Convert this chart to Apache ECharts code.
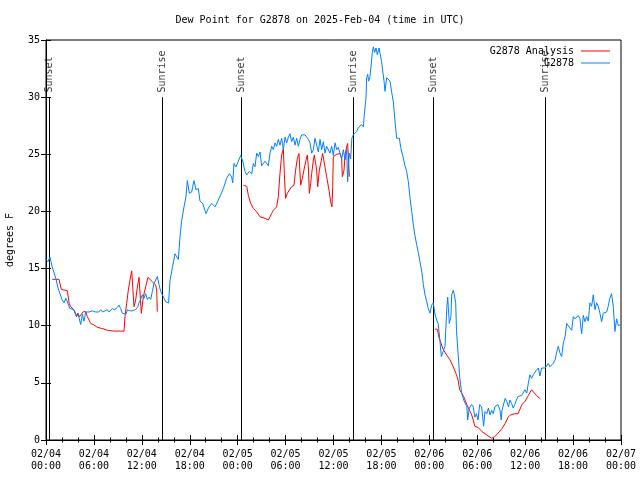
<!DOCTYPE html>
<html>
<head>
<meta charset="utf-8">
<script src="https://cdn.jsdelivr.net/npm/echarts@6/dist/echarts.min.js"></script>
<style>html,body{margin:0;padding:0;background:#fff}#c{width:640px;height:480px}</style>
</head>
<body>
<div id="c"></div>
<script>
// ---- data (hours since 2025-02-04 00:00 UTC, dew point in F) ----
const chartTitle = 'Dew Point for G2878 on 2025-Feb-04 (time in UTC)';
const yAxisTitle = 'degrees F';
const analysisName = 'G2878 Analysis';
const obsName = 'G2878';
const xTickLabels = ['02/04\n00:00','02/04\n06:00','02/04\n12:00','02/04\n18:00','02/05\n00:00','02/05\n06:00','02/05\n12:00','02/05\n18:00','02/06\n00:00','02/06\n06:00','02/06\n12:00','02/06\n18:00','02/07\n00:00'];
const yTicks = [0,5,10,15,20,25,30,35];
const sunEventHours = [0.4, 14.55, 24.45, 38.5, 48.5, 62.5];
const sunEventNames = ['Sunset','Sunrise','Sunset','Sunrise','Sunset','Sunrise'];
const sunLineTop = 30;
const sunLabelY = 30.4;

const obsDewPoint = [
[0.0,15.8],[0.25,15.6],[0.5,16.0],[0.75,15.2],[1.0,15.3],[1.25,14.1],[1.5,13.3],[1.75,13.4],[2.0,12.3],[2.25,12.0],[2.5,12.4],[2.75,12.3],[3.0,11.5],[3.25,11.6],[3.5,11.4],[3.75,10.9],[4.0,11.1],[4.34,10.1],[4.55,11.0],[4.76,10.4],[4.97,11.2],[5.2,11.2],[5.4,11.2],[5.8,11.3],[6.2,11.2],[6.6,11.2],[6.85,11.4],[7.1,11.2],[7.4,11.3],[7.68,11.4],[7.9,11.2],[8.3,11.5],[8.6,11.4],[8.93,11.6],[9.14,11.8],[9.35,11.5],[9.56,11.1],[9.77,11.0],[10.0,11.0],[10.2,11.4],[10.5,11.3],[10.8,11.3],[11.2,11.4],[11.45,11.6],[11.65,12.0],[11.85,12.3],[12.06,12.7],[12.27,12.4],[12.48,12.8],[12.69,12.3],[12.9,12.5],[13.11,12.3],[13.32,13.0],[13.52,13.7],[13.73,14.0],[13.94,14.3],[14.15,13.6],[14.36,13.0],[14.57,12.7],[14.78,12.8],[14.99,12.1],[15.2,12.0],[15.35,12.0],
[15.53,14.0],[15.86,15.2],[16.15,16.3],[16.36,16.2],[16.57,15.8],[16.78,17.8],[16.99,19.2],[17.28,20.4],[17.53,21.3],[17.7,22.7],[17.95,21.6],[18.24,21.7],[18.53,22.7],[18.78,21.9],[19.08,22.0],[19.28,20.9],[19.62,20.7],[20.04,19.8],[20.33,20.3],[20.75,20.7],[21.17,20.4],[21.58,21.0],[21.9,21.5],[22.21,22.0],[22.62,22.9],[22.96,23.3],[23.25,23.0],[23.38,22.5],[23.54,24.2],[23.79,23.9],[24.08,24.4],[24.38,24.9],[24.63,24.4],[24.92,23.5],[25.13,23.2],[25.46,23.5],[25.76,23.3],[25.96,24.2],[26.17,23.9],[26.38,25.1],[26.59,24.8],[26.8,25.2],[27.0,24.0],[27.21,23.9],[27.42,24.4],[27.63,24.4],[27.84,24.0],[28.05,25.1],
[28.26,25.7],[28.47,25.4],[28.68,26.0],[28.88,25.7],[29.09,26.3],[29.3,25.8],[29.51,26.4],[29.72,25.4],[29.93,26.5],[30.14,26.0],[30.35,26.5],[30.55,26.8],[30.76,26.1],[30.97,26.5],[31.18,25.8],[31.39,26.4],[31.6,25.7],[31.8,26.3],[32.02,26.7],[32.23,26.6],[32.43,26.7],[32.65,26.5],[32.85,26.3],[33.06,26.0],[33.27,25.1],[33.48,25.4],[33.68,26.4],[33.89,25.8],[34.1,25.2],[34.31,26.3],[34.52,25.4],[34.73,26.1],[34.94,25.1],[35.14,25.7],[35.35,25.8],[35.56,25.1],[35.77,25.7],[35.98,24.9],[36.19,26.0],[36.4,25.4],[36.6,25.6],[36.81,25.7],[37.02,24.6],[37.23,25.4],[37.44,24.5],[37.65,25.4],[37.77,22.6],[37.98,25.1],[38.15,24.6],[38.3,26.4],
[38.48,26.7],[38.69,26.6],[38.9,27.0],[39.1,27.3],[39.3,27.4],[39.5,27.6],[39.74,27.4],[39.86,28.5],[40.07,29.9],[40.15,31.7],[40.28,32.0],[40.4,31.4],[40.57,31.8],[40.7,32.7],[40.86,33.9],[40.99,34.4],[41.15,33.9],[41.32,34.3],[41.49,33.7],[41.7,34.3],[41.82,34.4],[42.03,33.1],[42.16,32.3],[42.33,31.4],[42.45,30.5],[42.66,31.7],[42.87,31.8],[43.08,31.4],[43.29,30.4],[43.49,29.6],[43.7,27.9],[43.91,26.4],[44.12,26.3],[44.25,26.4],[44.41,25.6],[44.66,24.9],[44.95,24.0],[45.16,23.5],[45.37,22.6],[45.58,21.2],[45.79,20.0],[46.0,18.8],[46.2,17.9],[46.41,17.1],[46.62,16.4],[46.83,15.6],[47.04,14.8],[47.25,13.6],[47.46,12.7],
[47.67,12.1],[47.87,11.5],[48.08,11.1],[48.29,11.8],[48.5,12.0],[48.71,11.0],[48.92,10.5],[49.1,10.2],[49.3,8.9],[49.5,7.3],[49.75,7.4],[49.96,8.2],[50.2,11.7],[50.3,12.5],[50.5,10.2],[50.7,10.8],[50.8,12.7],[51.0,13.1],[51.1,12.8],[51.3,12.0],[51.4,9.6],[51.6,7.6],[51.8,5.5],[52.05,4.1],[52.3,3.5],[52.5,3.65],[52.7,2.9],[52.8,1.75],[53.0,2.8],[53.3,3.1],[53.5,2.9],[53.7,2.0],[53.9,2.3],[54.1,1.75],[54.3,3.1],[54.55,2.9],[54.8,1.2],[54.97,2.5],[55.2,2.3],[55.4,2.8],[55.6,2.2],[55.8,2.6],[56.0,2.3],[56.2,2.9],[56.4,2.8],[56.6,3.1],[56.85,2.6],[57.0,1.75],[57.1,2.6],[57.5,3.65],[57.7,3.35],[57.9,2.9],[58.1,3.5],[58.3,3.2],[58.5,2.8],[58.7,3.1],[58.9,3.5],[59.1,3.8],[59.35,3.65],[59.56,3.9],[59.8,3.8],[59.98,4.4],[60.2,4.1],[60.4,5.0],[60.6,5.7],[60.8,5.4],[61.0,5.7],[61.2,5.8],[61.4,6.1],[61.65,6.3],[61.85,5.6],[62.06,6.3],[62.27,6.3],[62.5,6.3],[62.9,6.7],[63.1,6.4],
[63.5,6.7],[63.74,7.0],[63.95,7.7],[64.15,8.2],[64.36,7.6],[64.57,7.3],[64.78,8.5],[64.99,9.0],[65.2,10.2],[65.4,10.1],[65.6,9.8],[65.82,9.6],[66.03,10.8],[66.24,10.6],[66.45,10.5],[66.65,10.9],[66.86,10.6],[67.07,9.3],[67.28,10.9],[67.49,10.35],[67.69,10.8],[67.9,10.4],[68.11,12.0],[68.32,11.7],[68.53,12.7],[68.74,11.4],[68.95,12.0],[69.15,11.7],[69.36,11.1],[69.57,10.35],[69.78,11.1],[69.99,11.2],[70.2,11.2],[70.4,11.7],[70.6,12.4],[70.82,12.8],[71.03,11.7],[71.24,9.5],[71.45,10.6],[71.66,10.0],[71.87,9.9],[72.0,10.1]
];

const analysisDewPoint = [
[0.79,14.06],[1.63,14.06],[1.75,14.23],[1.92,13.18],[2.67,13.06],[2.88,12.9],[2.9,11.96],[3.09,11.67],[3.51,11.38],[3.84,10.79],[4.0,11.08],[4.2,10.79],[4.34,10.94],[4.67,11.23],[4.97,11.23],[5.18,10.79],[5.59,10.2],[6.01,10.06],[6.43,9.86],[7.26,9.71],[7.68,9.6],[8.5,9.53],[9.77,9.53],[9.89,10.79],[10.1,11.96],[10.31,13.12],[10.52,14.0],[10.73,14.8],[10.94,14.8],[11.02,11.67],[11.23,12.25],[11.44,13.41],[11.65,14.23],[11.85,14.23],[11.94,11.08],[12.19,12.54],[12.48,13.41],[12.77,14.23],[13.02,14.23],[13.32,13.85],[13.52,13.7],[13.73,13.56],[13.86,13.12],[13.94,11.23],
[19,'-'],
[24.71,22.3],[25.13,22.2],[25.34,21.4],[25.63,20.7],[25.96,20.26],[26.38,19.97],[26.8,19.53],[27.42,19.39],[27.84,19.25],[28.05,19.53],[28.26,19.83],[28.47,20.1],[28.88,20.4],[29.09,21.29],[29.3,23.33],[29.51,24.93],[29.72,25.5],[29.84,23.33],[30.0,21.15],[30.22,21.58],[30.47,21.87],[30.76,22.16],[31.05,22.3],[31.26,23.62],[31.47,24.64],[31.68,25.07],[31.76,23.9],[31.89,22.3],[32.1,22.9],[32.3,23.62],[32.51,24.35],[32.72,24.93],[32.85,23.9],[32.98,21.58],[33.14,22.45],[33.27,23.33],[33.48,24.5],[33.6,24.93],[33.73,25.07],[33.89,23.62],[34.02,22.16],[34.23,23.62],[34.44,24.35],[34.64,25.07],[34.85,25.07],[35.14,23.04],[35.44,21.87],[35.64,20.85],[35.81,20.4],[35.9,22.16],[35.98,24.8],[36.19,24.93],[36.4,25.0],[36.6,25.07],[36.81,25.07],[37.02,24.64],[37.11,23.04],[37.32,23.62],[37.44,24.93],[37.65,25.66],[37.77,25.95],[37.9,24.2],[37.98,23.04],
[43,'-'],
[48.7,9.7],[49.0,9.7],[49.2,9.0],[49.4,8.6],[49.5,8.5],[49.75,7.9],[50.2,7.4],[50.6,7.0],[51.0,6.4],[51.4,5.7],[51.6,5.25],[51.8,4.4],[52.3,3.8],[52.7,3.1],[53.1,2.5],[53.3,2.2],[53.5,1.75],[53.7,1.2],[54.1,1.1],[54.6,0.73],[55.2,0.44],[55.8,0.15],[56.2,0.3],[56.6,0.6],[57.1,1.0],[57.5,1.46],[57.9,2.04],[58.2,2.2],[58.7,2.3],[59.1,2.3],[59.6,3.1],[60.0,3.4],[60.4,3.9],[60.8,4.4],[61.0,4.4],[61.4,3.9],[61.9,3.6]
];

// ---- chart ----
const FONT = 'DejaVu Sans Mono';
const chart = echarts.init(document.getElementById('c'), null, {renderer: 'canvas'});
const sunPoints = sunEventHours.map((h, i) => [h, sunLabelY, sunEventNames[i]]);
const sunLines = sunEventHours.map(h => [{coord: [h, 0]}, {coord: [h, sunLineTop]}]);

const axisCommon = {
  axisLine: {show: true, lineStyle: {color: '#000', width: 1}},
  splitLine: {show: false}
};

chart.setOption({
  animation: false,
  backgroundColor: '#fff',
  textStyle: {fontFamily: FONT, color: '#000'},
  title: {
    text: chartTitle, left: 'center', top: 10,
    textStyle: {fontFamily: FONT, fontSize: 10, fontWeight: 'normal', color: '#000'}
  },
  grid: {left: 46, right: 19, top: 40, bottom: 40, show: true, borderColor: '#000', borderWidth: 1,
    containLabel: false, outerBoundsMode: 'none'},
  legend: {
    data: [analysisName, obsName],
    orient: 'vertical', right: 25, top: 41, align: 'right',
    icon: 'rect', itemWidth: 29, itemHeight: 1, itemGap: 2,
    textStyle: {fontFamily: FONT, fontSize: 10, color: '#000', padding: [0, 2, 0, 0]}
  },
  xAxis: [
    Object.assign({}, axisCommon, {
      type: 'value', min: 0, max: 72, interval: 6, position: 'bottom',
      axisTick: {show: true, inside: true, length: 5, lineStyle: {color: '#000'}},
      minorTick: {show: true, splitNumber: 3, length: 2.5, lineStyle: {color: '#000'}},
      axisLabel: {fontFamily: FONT, fontSize: 10, color: '#000', lineHeight: 12, margin: 8,
        formatter: v => xTickLabels[Math.round(v / 6)]}
    }),
    Object.assign({}, axisCommon, {
      type: 'value', min: 0, max: 72, interval: 6, position: 'top',
      axisTick: {show: true, inside: true, length: 5, lineStyle: {color: '#000'}},
      minorTick: {show: true, splitNumber: 3, length: 2.5, lineStyle: {color: '#000'}},
      axisLabel: {show: false}
    })
  ],
  yAxis: [
    Object.assign({}, axisCommon, {
      type: 'value', min: yTicks[0], max: yTicks[yTicks.length - 1], interval: 5, position: 'left',
      name: yAxisTitle, nameLocation: 'middle', nameGap: 31, nameRotate: 90,
      nameTextStyle: {fontFamily: FONT, fontSize: 10, color: '#000'},
      axisTick: {show: true, inside: true, length: 5, lineStyle: {color: '#000'}},
      axisLabel: {fontFamily: FONT, fontSize: 10, color: '#000', margin: 6}
    }),
    Object.assign({}, axisCommon, {
      type: 'value', min: yTicks[0], max: yTicks[yTicks.length - 1], interval: 5, position: 'right',
      axisTick: {show: true, inside: true, length: 5, lineStyle: {color: '#000'}},
      axisLabel: {show: false}
    })
  ],
  series: [
    {
      name: 'sun', type: 'scatter', symbolSize: 0, silent: true, z: 3,
      data: sunPoints,
      label: {show: true, position: 'inside', rotate: 90, align: 'left', verticalAlign: 'middle',
        fontFamily: FONT, fontSize: 10, color: '#000', formatter: p => p.data[2]},
      markLine: {silent: true, symbol: ['none', 'none'], label: {show: false},
        lineStyle: {color: '#000', width: 1, type: 'solid'}, data: sunLines}
    },
    {
      name: analysisName, type: 'line', data: analysisDewPoint, showSymbol: false, symbol: 'none',
      connectNulls: false, lineStyle: {color: '#ff0000', width: 1}, itemStyle: {color: '#ff0000'}, z: 4
    },
    {
      name: obsName, type: 'line', data: obsDewPoint, showSymbol: false, symbol: 'none',
      lineStyle: {color: '#0080ff', width: 1}, itemStyle: {color: '#0080ff'}, z: 5
    }
  ]
});
</script>
</body>
</html>
